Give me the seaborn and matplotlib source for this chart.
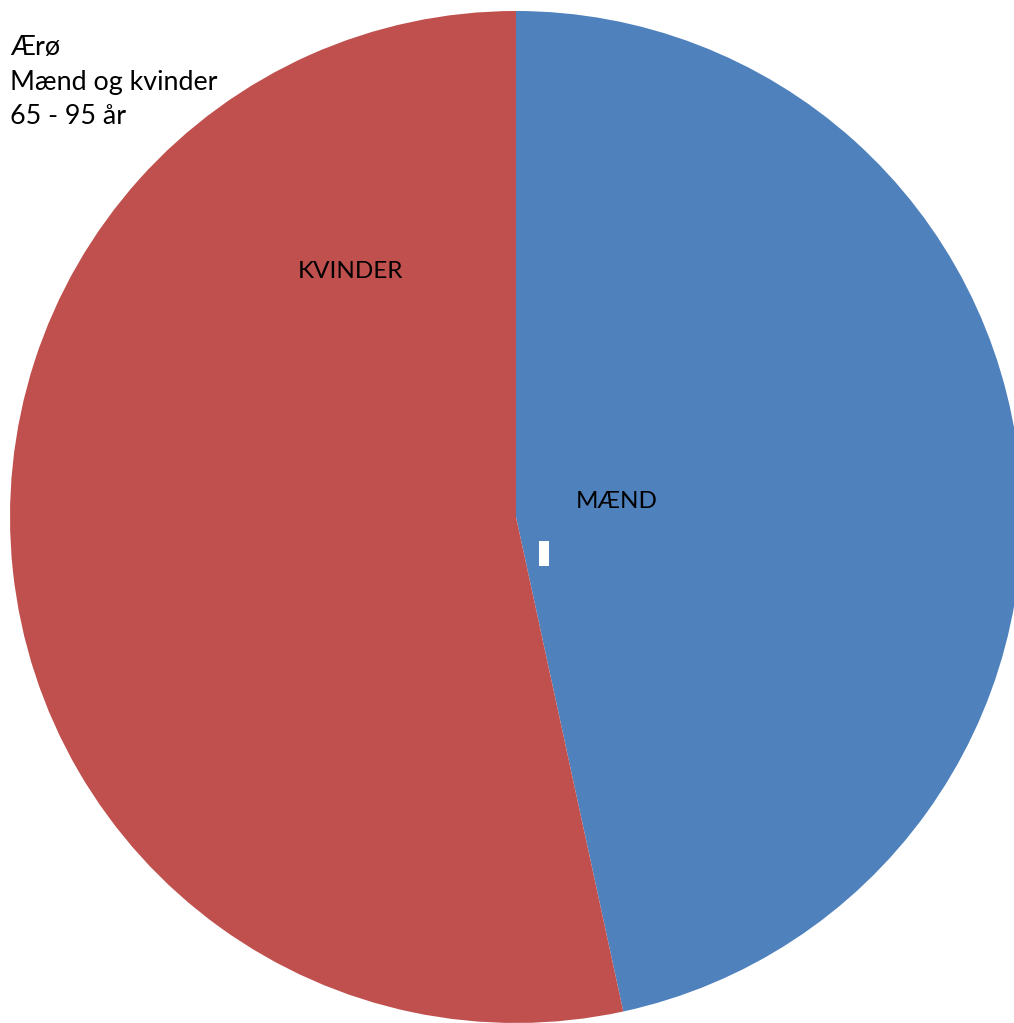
import matplotlib
matplotlib.use("Agg")
import matplotlib.pyplot as plt
import seaborn as sns
from matplotlib.patches import Rectangle

# share of men / women on Ærø, age 65-95
labels = ["MÆND", "KVINDER"]
shares = [46.6, 53.4]
colors = ["#4F81BD", "#C0504D"]
title_lines = ["Ærø", "Mænd og kvinder", "65 - 95 år"]

sns.set_style("white")
plt.rcParams["font.family"] = ["Lato", "DejaVu Sans"]

fig = plt.figure(figsize=(10.14, 10.23), dpi=100)
ax = fig.add_axes([0, 0, 1, 1])

ax.pie(shares, colors=colors, startangle=90, counterclock=False,
       wedgeprops=dict(linewidth=0))

ax.set_xlim(-1.0198, 0.9842)
ax.set_ylim(-1.0, 1.0217)
ax.set_aspect("equal")
ax.axis("off")

# data labels
ax.text(0.198, 0.030, labels[0], ha="center", va="center", fontsize=17.5, color="black")
ax.text(-0.328, 0.486, labels[1], ha="center", va="center", fontsize=17.5, color="black")
# empty label box
ax.add_patch(Rectangle((0.045, -0.097), 0.02, 0.05, facecolor="white", edgecolor="none"))

fig.text(10 / 1014, 1 - 35 / 1023, "\n".join(title_lines), ha="left", va="top",
         fontsize=19.4, linespacing=1.48, color="black")

fig.savefig("out.png", dpi=100)
